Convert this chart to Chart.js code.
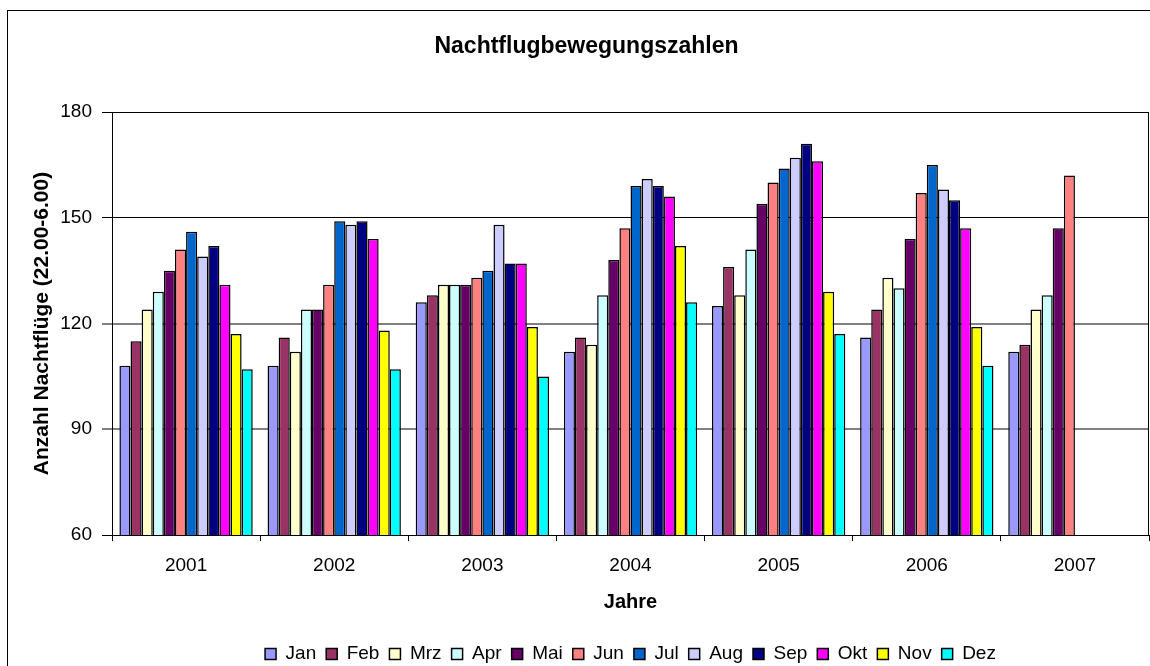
<!DOCTYPE html>
<html>
<head>
<meta charset="utf-8">
<script src="https://cdn.jsdelivr.net/npm/chart.js@4"></script>
<style>
  html, body { margin: 0; padding: 0; background: #fff; overflow: hidden; }
  #wrap { width: 1150px; height: 690px; }
</style>
</head>
<body>
<div id="wrap"><canvas id="chart" width="1150" height="690"></canvas></div>
<script>
const years = ['2001', '2002', '2003', '2004', '2005', '2006', '2007'];
const months = ['Jan', 'Feb', 'Mrz', 'Apr', 'Mai', 'Jun', 'Jul', 'Aug', 'Sep', 'Okt', 'Nov', 'Dez'];

// Nachtflüge je Monat, Werte für 2001..2007
const jan = [108, 108, 126, 112, 125, 116, 112];
const feb = [115, 116, 128, 116, 136, 124, 114];
const mrz = [124, 112, 131, 114, 128, 133, 124];
const apr = [129, 124, 131, 128, 141, 130, 128];
const mai = [135, 124, 131, 138, 154, 144, 147];
const jun = [141, 131, 133, 147, 160, 157, 162];
const jul = [146, 149, 135, 159, 164, 165, null];
const aug = [139, 148, 148, 161, 167, 158, null];
const sep = [142, 149, 137, 159, 171, 155, null];
const okt = [131, 144, 137, 156, 166, 147, null];
const nov = [117, 118, 119, 142, 129, 119, null];
const dez = [107, 107, 105, 126, 117, 108, null];

const yTicks = [60, 90, 120, 150, 180];

const monthColors = ['#9999FF', '#993366', '#FFFFCC', '#CCFFFF', '#660066', '#FF8080',
  '#0066CC', '#CCCCFF', '#000080', '#FF00FF', '#FFFF00', '#00FFFF'];
const series = [jan, feb, mrz, apr, mai, jun, jul, aug, sep, okt, nov, dez];

Chart.defaults.font.family = "'Liberation Sans', Arial, sans-serif";
Chart.defaults.color = '#000';

const frame = {
  id: 'frame',
  beforeDraw(chart) {
    const ctx = chart.ctx;
    ctx.save();
    ctx.fillStyle = '#fff';
    ctx.fillRect(0, 0, chart.width, chart.height);
    ctx.strokeStyle = '#000';
    ctx.lineWidth = 1;
    ctx.strokeRect(7.5, 10.5, 1160, 700);
    ctx.restore();
  },
  afterLayout(chart) {
    // Titel und Legende sitzen nicht mittig über der Zeichenfläche
    chart.titleBlock.left += 12;
    chart.titleBlock.right += 12;
    chart.legend.left += 56;
    chart.legend.right += 56;
  },
  afterDatasetsDraw(chart) {
    const { left, top, right, bottom } = chart.chartArea;
    const ctx = chart.ctx;
    ctx.save();
    ctx.strokeStyle = '#000';
    ctx.lineWidth = 1;
    ctx.strokeRect(Math.round(left) + 0.5, Math.round(top) + 0.5,
      Math.round(right - left) - 1, Math.round(bottom - top));
    ctx.restore();
  }
};

const gridStyle = (c) => {
  const v = c.tick ? c.tick.value : 0;
  return (v === 90 || v === 120) ? '#808080' : '#000';
};

new Chart(document.getElementById('chart'), {
  type: 'bar',
  data: {
    labels: years,
    datasets: months.map((m, i) => ({
      label: m,
      data: series[i],
      backgroundColor: monthColors[i],
      borderColor: '#000',
      borderWidth: 1.5,
      borderSkipped: false,
      inflateAmount: 0,
      barPercentage: 1,
      categoryPercentage: 0.9
    }))
  },
  options: {
    responsive: false,
    animation: false,
    layout: { padding: { left: 0, right: 1, top: 0, bottom: 16.5 } },
    plugins: {
      title: {
        display: true,
        text: 'Nachtflugbewegungszahlen',
        color: '#000',
        font: { size: 23, weight: 'bold' },
        padding: { top: 33, bottom: 51.4 }
      },
      legend: {
        position: 'bottom',
        labels: {
          color: '#000',
          boxWidth: 11,
          boxHeight: 11,
          padding: 10,
          font: { size: 19 }
        }
      },
      tooltip: { enabled: false }
    },
    scales: {
      x: {
        afterFit: s => { s.height = 99.5; },
        grid: { offset: true, drawOnChartArea: false, tickLength: 6, color: '#000' },
        border: { color: '#000' },
        ticks: { font: { size: 19 }, padding: 13, color: '#000' },
        title: {
          display: true,
          text: 'Jahre',
          color: '#000',
          font: { size: 20, weight: 'bold' },
          padding: { top: 4, bottom: 20.5 }
        }
      },
      y: {
        min: 60,
        max: 180,
        afterFit: s => { s.width = 112; },
        afterBuildTicks: s => { s.ticks = yTicks.map(v => ({ value: v })); },
        grid: {
          color: gridStyle,
          lineWidth: c => (c.tick && (c.tick.value === 90 || c.tick.value === 120)) ? 2 : 1,
          tickColor: '#000',
          tickWidth: 1,
          tickLength: 10
        },
        border: { color: '#000' },
        ticks: { font: { size: 19 }, padding: 10, color: '#000' },
        title: {
          display: true,
          text: 'Anzahl Nachtflüge (22.00-6.00)',
          color: '#000',
          font: { size: 21, weight: 'bold' },
          padding: { top: 30, bottom: 0 }
        }
      }
    }
  },
  plugins: [frame]
});
</script>
</body>
</html>
